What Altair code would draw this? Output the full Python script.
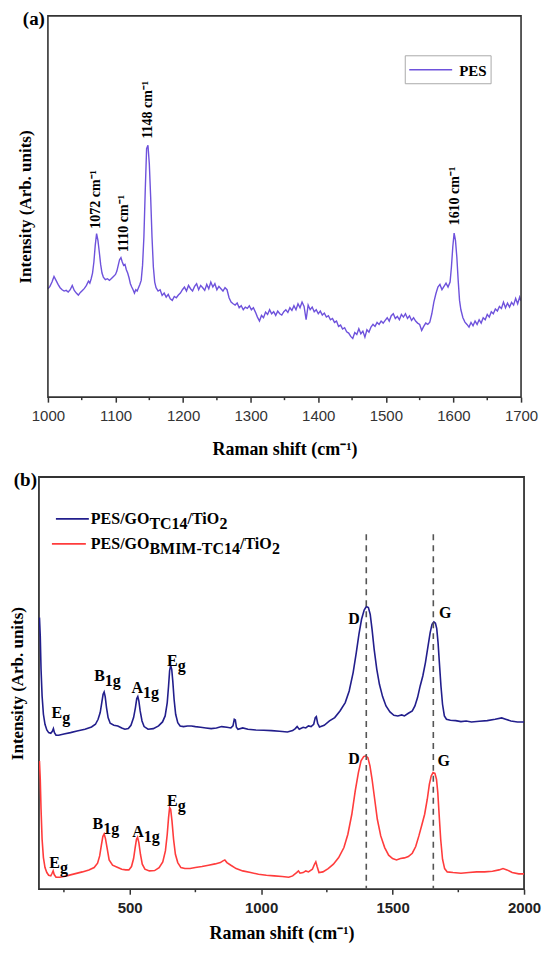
import altair as alt
import pandas as pd

# ---------------- Panel (a): PES Raman spectrum ----------------
pes_x = [1000,1003,1006,1009,1012,1015,1018,1021,1024,1027,1030,1033,1036,1039,1042,1045,1048,1051,1054,1057,
         1060,1062,1064,1066,1068,1070,1072,1074,1076,1078,1080,1082,1085,1088,1091,1094,1097,1100,1102,1104,
         1106,1108,1110,1112,1114,1116,1118,1120,1122,1124,1126,1128,1130,1132,1134,1136,1138,1140,1142,1144,
         1146,1148,1150,1152,1154,1156,1158,1160,1163,1166,1169,1172,1175,1178,1181,1184,1187,1190,1193,1196,
         1199,1202,1205,1208,1211,1214,1217,1220,1223,1226,1229,1232,1235,1238,1241,1244,1247,1250,1253,1256,
         1259,1262,1265,1268,1271,1274,1277,1280,1283,1286,1289,1292,1295,1298,1301,1304,1307,1310,1313,1316,
         1319,1322,1325,1328,1331,1334,1337,1340,1343,1346,1349,1352,1355,1358,1361,1364,1367,1370,1373,1376,
         1379,1382,1385,1388,1391,1394,1397,1400,1403,1406,1409,1412,1415,1418,1421,1424,1427,1430,1433,1436,
         1439,1442,1445,1448,1451,1454,1457,1460,1463,1466,1469,1472,1475,1478,1481,1484,1487,1490,1493,1496,
         1499,1502,1505,1508,1511,1514,1517,1520,1523,1526,1529,1532,1535,1538,1541,1544,1547,1550,1553,1556,
         1559,1562,1565,1568,1571,1574,1577,1580,1583,1586,1589,1592,1595,1597,1599,1601,1603,1605,1607,1609,
         1611,1614,1617,1620,1623,1626,1629,1632,1635,1638,1641,1644,1647,1650,1653,1656,1659,1662,1665,1668,
         1671,1674,1677,1680,1683,1686,1689,1692,1695,1698,1700]
pes_y = [325,332,345,362,350,338,328,322,318,320,315,322,335,320,312,306,314,320,326,335,
         348,342,355,372,405,455,490,470,435,398,372,360,352,355,350,356,362,368,378,395,
         412,418,405,395,398,382,372,358,340,330,322,312,322,318,328,338,350,395,480,620,
         745,755,700,600,480,390,345,328,318,322,305,312,300,308,295,290,302,298,306,312,
         322,330,318,335,325,318,332,340,322,335,328,320,338,325,345,330,340,322,332,325,
         318,328,322,298,285,280,276,282,268,274,262,270,266,274,262,268,255,240,228,245,
         238,255,248,262,250,256,245,258,250,246,256,262,254,268,260,274,262,280,268,285,
         272,232,276,262,270,256,262,250,258,246,252,240,244,232,236,224,228,212,216,204,
         208,196,192,182,176,194,188,205,190,198,180,202,195,210,218,212,224,218,228,222,
         230,238,228,244,250,236,242,232,248,240,250,236,244,230,238,228,222,218,200,212,
         222,218,225,250,285,310,330,338,322,332,342,330,345,390,450,492,470,420,350,290,
         262,238,225,218,210,224,214,228,218,232,222,238,232,248,240,256,250,264,258,272,
         266,285,268,282,270,284,276,296,280,300,288]

ann_a_x = [1071, 1112, 1148, 1602]
ann_a_y = [505, 435, 775, 515]
ann_a_text = ["1072 cm⁻¹", "1110 cm⁻¹", "1148 cm⁻¹", "1610 cm⁻¹"]

a_range = [1000, 1700]
a_major = [1000, 1100, 1200, 1300, 1400, 1500, 1600, 1700]
a_minor = [1050, 1150, 1250, 1350, 1450, 1550, 1650]

# ---------------- Panel (b): composite membranes ----------------
name_blue = "PES/GO_TC14/TiO2"
name_red = "PES/GO_BMIM-TC14/TiO2"

blue_x = [157,160,163,167,172,178,185,192,200,206,210,214,220,230,250,275,300,330,355,370,
          380,388,394,399,403,407,412,418,426,440,455,470,482,495,505,515,522,527,531,535,
          540,547,555,570,590,610,625,635,643,648,652,656,660,664,669,675,683,692,705,720,
          735,750,770,790,810,830,850,870,885,893,898,902,906,912,930,950,980,1010,1040,1070,
          1100,1120,1130,1137,1145,1160,1170,1180,1190,1200,1206,1210,1215,1222,1240,1260,1280,1300,1320,1335,
          1350,1362,1372,1382,1392,1400,1408,1415,1422,1430,1440,1450,1462,1475,1490,1505,1520,1535,1545,1560,
          1575,1585,1595,1605,1615,1625,1635,1643,1650,1657,1663,1668,1673,1678,1684,1690,1697,1705,1720,1740,
          1760,1780,1800,1830,1860,1890,1915,1930,1950,1975,2000]
blue_y = [815,760,660,580,525,495,478,470,468,474,482,470,462,462,466,470,475,480,487,495,
          510,530,560,585,592,578,545,515,498,492,490,484,480,482,492,515,545,572,578,565,
          535,505,488,480,482,490,502,520,560,610,655,672,660,625,570,525,500,490,488,490,
          490,488,486,484,482,484,488,486,484,490,510,508,486,480,484,480,478,477,476,474,
          472,476,482,488,480,486,484,490,488,495,515,518,498,487,492,505,515,535,560,595,
          650,710,765,810,838,848,845,825,780,720,660,615,578,550,532,522,520,523,520,528,
          535,550,575,610,640,680,730,770,795,802,798,782,740,680,610,555,520,510,507,506,
          503,505,502,504,506,510,514,510,505,502,502]

red_x = [157,160,163,167,172,178,185,192,200,205,209,213,220,235,260,290,320,345,365,378,
         386,392,398,403,408,414,422,435,455,470,485,497,507,515,521,526,530,535,541,548,
         558,575,595,612,626,636,643,648,652,656,661,667,674,683,695,710,730,750,775,800,
         825,845,855,862,870,885,905,930,960,990,1020,1050,1080,1105,1120,1135,1142,1148,1160,1170,
         1180,1195,1203,1208,1213,1220,1235,1255,1275,1295,1315,1330,1345,1358,1370,1380,1390,1398,1406,1414,
         1422,1432,1442,1455,1470,1485,1500,1515,1530,1545,1560,1575,1588,1600,1612,1622,1632,1640,1647,1654,
         1661,1667,1672,1677,1683,1690,1698,1708,1730,1760,1790,1820,1850,1880,1905,1920,1935,1955,1980,2000]
red_y = [385,330,240,150,95,65,50,42,40,48,55,44,36,36,40,46,52,58,65,78,
         100,130,158,166,152,125,88,72,65,60,58,58,68,92,125,150,156,140,105,75,
         60,55,56,65,82,115,165,215,245,240,205,150,105,80,65,62,62,65,68,72,
         76,80,85,88,80,72,62,55,50,45,42,40,38,36,40,50,55,48,50,55,
         52,60,75,82,68,50,52,62,75,95,125,165,225,295,350,385,398,400,395,370,
         330,270,210,160,125,102,92,88,92,94,98,108,128,160,195,225,270,315,340,350,
         348,330,290,225,150,90,62,52,50,48,50,52,52,54,58,62,58,50,46,46]

lbl_series = [name_blue] * 6 + [name_red] * 6
lbl_main = ["E", "B", "A", "E", "D", "G", "E", "B", "A", "E", "D", "G"]
lbl_sub = ["g", "1g", "1g", "g", "", "", "g", "1g", "1g", "g", "", ""]
lbl_x = [203, 365, 507, 642, 1331, 1677, 194, 359, 510, 642, 1331, 1671]
lbl_y = [515, 625, 590, 670, 795, 815, 65, 180, 157, 250, 375, 370]

dash_x = [1400, 1655]
dash_top = [1065, 1065]

b_major = [500, 1000, 1500, 2000]
b_minor = [250, 750, 1250, 1750]

# ---------------- styling ----------------
SERIF = "Liberation Serif"
SANS = "Liberation Sans"
FRAME = "#333333"
C_PES = "#6e52dc"
C_BLUE = "#221e8c"
C_RED = "#ff3c3c"

IND_A = 9                     # panel (a) frame is indented 9px relative to panel (b)
W_A, H_A = 474 + IND_A, 382
W_B, H_B = 486, 413
a_lo = a_range[0] - IND_A * (a_range[1] - a_range[0]) / 474.0


def one(t=""):
    return alt.Data(values=[{"t": t}])


# ---------- panel (a) ----------
df_a = pd.DataFrame({"x": pes_x, "y": pes_y, "series": "PES"})
df_ann = pd.DataFrame({"x": ann_a_x, "y": ann_a_y, "t": ann_a_text})
df_amin = pd.DataFrame({"x": a_minor})

xa_scale = alt.Scale(domain=[a_lo, a_range[1]], nice=False, zero=False)
ya_scale = alt.Scale(domain=[0, 1143], nice=False, zero=False)
col_a = alt.Scale(domain=["PES"], range=[C_PES])

line_a = alt.Chart(df_a).mark_line(strokeWidth=1.4, clip=True).encode(
    x=alt.X("x:Q", scale=xa_scale,
            axis=alt.Axis(values=a_major, format="d", title="Raman shift (cm⁻¹)",
                          labelFont=SANS, labelFontSize=15, labelColor="#333333",
                          labelFlush=False, labelPadding=6, tickSize=5, tickWidth=1.5,
                          tickColor=FRAME, domain=False, grid=False,
                          titleFont=SERIF, titleFontSize=18, titleFontWeight="bold",
                          titleColor="black", titlePadding=17,
                          titleX=IND_A + 237)),
    y=alt.Y("y:Q", scale=ya_scale,
            axis=alt.Axis(title="Intensity (Arb. units)", labels=False, ticks=False,
                          domain=False, grid=False, titleFont=SERIF, titleFontSize=17,
                          titleFontWeight="bold", titleColor="black", titlePadding=4)),
    color=alt.Color("series:N", scale=col_a, legend=None),
)

frame_a = alt.Chart(pd.DataFrame({"x": [a_range[0]], "x2": [a_range[1]]})).mark_rect(
    fillOpacity=0, stroke=FRAME, strokeWidth=1.6).encode(
    x=alt.X("x:Q", scale=xa_scale), x2="x2:Q", y=alt.value(0), y2=alt.value(H_A))

ann_a = alt.Chart(df_ann).mark_text(angle=270, align="left", baseline="middle",
                                    font=SERIF, fontWeight="bold", fontSize=14,
                                    color="black").encode(
    x=alt.X("x:Q", scale=xa_scale), y=alt.Y("y:Q", scale=ya_scale), text="t:N")

minor_a = alt.Chart(df_amin).mark_rule(color=FRAME, strokeWidth=1.5).encode(
    x=alt.X("x:Q", scale=xa_scale), y=alt.value(H_A), y2=alt.value(H_A + 3))

tag_a = alt.Chart(one("(a)")).mark_text(
    align="right", baseline="middle", font=SERIF, fontWeight="bold", fontSize=19,
    color="black").encode(x=alt.value(IND_A - 3), y=alt.value(3), text="t:N")

# legend of panel (a)
LX = IND_A
leg_a_box = alt.Chart(one()).mark_rect(fill="white", stroke="#aaaaaa", strokeWidth=1).encode(
    x=alt.value(LX + 358), x2=alt.value(LX + 444), y=alt.value(40), y2=alt.value(68))
leg_a_line = alt.Chart(alt.Data(values=[{"series": "PES"}])).mark_rule(strokeWidth=1.6).encode(
    x=alt.value(LX + 362), x2=alt.value(LX + 405), y=alt.value(54),
    color=alt.Color("series:N", scale=col_a, legend=None))
leg_a_text = alt.Chart(one("PES")).mark_text(
    align="left", baseline="middle", font=SERIF, fontWeight="bold", fontSize=15,
    color="black").encode(x=alt.value(LX + 412), y=alt.value(55), text="t:N")

panel_a = alt.layer(line_a, frame_a, ann_a, minor_a, tag_a, leg_a_box, leg_a_line,
                    leg_a_text).properties(
    width=W_A, height=H_A, view=alt.ViewBackground(stroke="transparent"))

# ---------- panel (b) ----------
df_b = pd.concat([
    pd.DataFrame({"x": blue_x, "y": blue_y, "series": name_blue}),
    pd.DataFrame({"x": red_x, "y": red_y, "series": name_red}),
])
df_lbl = pd.DataFrame({"series": lbl_series, "main": lbl_main, "sub": lbl_sub,
                       "x": lbl_x, "y": lbl_y})
df_dash = pd.DataFrame({"x": dash_x, "top": dash_top})
df_bmin = pd.DataFrame({"x": b_minor})

xb_scale = alt.Scale(domain=[155, 2000], nice=False, zero=False)
yb_scale = alt.Scale(domain=[0, 1237], nice=False, zero=False)
col_b = alt.Scale(domain=[name_blue, name_red], range=[C_BLUE, C_RED])

line_b = alt.Chart(df_b).mark_line(strokeWidth=1.6, clip=True).encode(
    x=alt.X("x:Q", scale=xb_scale,
            axis=alt.Axis(values=b_major, format="d", title="Raman shift (cm⁻¹)",
                          labelFont=SANS, labelFontSize=15, labelFontWeight="bold",
                          labelColor="#222222", labelFlush=False, labelPadding=6,
                          tickSize=5, tickWidth=1.5, tickColor=FRAME, domain=False,
                          grid=False, titleFont=SERIF, titleFontSize=18,
                          titleFontWeight="bold", titleColor="black", titlePadding=9)),
    y=alt.Y("y:Q", scale=yb_scale,
            axis=alt.Axis(title="Intensity (Arb. units)", labels=False, ticks=False,
                          domain=False, grid=False, titleFont=SERIF, titleFontSize=17,
                          titleFontWeight="bold", titleColor="black", titlePadding=12)),
    color=alt.Color("series:N", scale=col_b, legend=None),
    detail="series:N",
)

dash_b = alt.Chart(df_dash).mark_rule(color="#555555", strokeWidth=1.6,
                                      strokeDash=[6, 5]).encode(
    x=alt.X("x:Q", scale=xb_scale), y=alt.Y("top:Q", scale=yb_scale), y2=alt.datum(0))

lbl_main_b = alt.Chart(df_lbl).mark_text(align="left", baseline="alphabetic", font=SERIF,
                                         fontWeight="bold", fontSize=16,
                                         color="black").encode(
    x=alt.X("x:Q", scale=xb_scale), y=alt.Y("y:Q", scale=yb_scale), text="main:N")


def sub_layer(test, dx):
    return alt.Chart(df_lbl).transform_filter(test).mark_text(
        align="left", baseline="alphabetic", font=SERIF, fontWeight="bold",
        fontSize=16, dx=dx, dy=5, color="black").encode(
        x=alt.X("x:Q", scale=xb_scale), y=alt.Y("y:Q", scale=yb_scale), text="sub:N")


sub_eb = sub_layer("datum.main === 'E' || datum.main === 'B'", 10.7)
sub_a = sub_layer("datum.main === 'A'", 11.6)

minor_b = alt.Chart(df_bmin).mark_rule(color=FRAME, strokeWidth=1.5).encode(
    x=alt.X("x:Q", scale=xb_scale), y=alt.value(H_B), y2=alt.value(H_B + 3))

tag_b = alt.Chart(one("(b)")).mark_text(
    align="right", baseline="middle", font=SERIF, fontWeight="bold", fontSize=19,
    color="black").encode(x=alt.value(-2), y=alt.value(3), text="t:N")

# manual legend with subscripts
leg_layers = []
leg_lines = [(name_blue, 17, 50, 42), (name_red, 13, 47, 67)]
for nm, x1, x2, yy in leg_lines:
    leg_layers.append(
        alt.Chart(alt.Data(values=[{"series": nm}])).mark_rule(strokeWidth=1.6).encode(
            x=alt.value(x1), x2=alt.value(x2), y=alt.value(yy),
            color=alt.Color("series:N", scale=col_b, legend=None)))
leg_texts = [
    ("PES/GO", 52, 47), ("TC14", 110.7, 52), ("/TiO", 148.9, 47), ("2", 180.9, 52),
    ("PES/GO", 52, 72), ("BMIM-TC14", 110.7, 77), ("/TiO", 201.4, 72), ("2", 233.4, 77),
]
for t, xx, yy in leg_texts:
    leg_layers.append(
        alt.Chart(one(t)).mark_text(
            align="left", baseline="alphabetic", font=SERIF, fontWeight="bold",
            fontSize=16, color="black").encode(x=alt.value(xx), y=alt.value(yy), text="t:N"))

panel_b = alt.layer(line_b, dash_b, lbl_main_b, sub_eb, sub_a, minor_b, tag_b,
                    *leg_layers).properties(
    width=W_B, height=H_B, view=alt.ViewBackground(stroke=FRAME, strokeWidth=1.8))

chart = alt.vconcat(panel_a, panel_b, spacing=11).resolve_scale(
    color="independent", x="independent", y="independent"
).properties(
    padding={"left": 0, "top": 0, "right": 0, "bottom": 0},
    background="white",
)

chart.save("out.html", embed_options={"renderer": "svg", "actions": False})
